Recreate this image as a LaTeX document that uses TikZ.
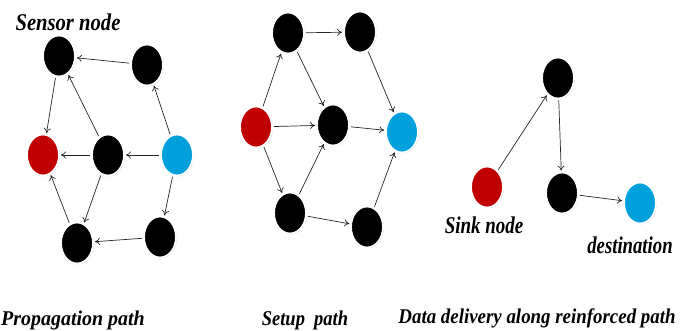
\documentclass[tikz,border=0pt]{standalone}
\usepackage{fontspec}
\setmainfont{Liberation Serif}
\usetikzlibrary{shapes.geometric,shadows,arrows.meta}
\definecolor{sinkred}{RGB}{192,0,0}
\definecolor{dstblue}{RGB}{0,160,220}
\tikzset{
  nd/.style={ellipse,minimum width=32pt,minimum height=41pt,inner sep=0pt,draw=white,line width=1.8pt,fill=black,
    drop shadow={shadow xshift=0.8pt,shadow yshift=-0.8pt,fill=black!40,opacity=0.6}},
  rd/.style={nd,fill=sinkred},
  bl/.style={nd,fill=dstblue},
  ar/.style={-{To[length=5pt,width=7pt]},draw=black!85,line width=0.7pt,shorten >=1pt,shorten <=1pt},
  lbl/.style={font=\fontsize{24}{26}\selectfont\bfseries\itshape,inner sep=0pt},
  captext/.style={font=\fontsize{21}{23}\selectfont\bfseries\itshape,inner sep=0pt}
}
\begin{document}
\begin{tikzpicture}[x=1pt,y=-1pt]
\useasboundingbox (0,0) rectangle (690,331);
% left graph
\node[nd] (la) at (59,56) {};
\node[nd] (lb) at (147,65) {};
\node[rd] (lr) at (43,155) {};
\node[nd] (lm) at (108,155) {};
\node[bl] (lu) at (177,155) {};
\node[nd] (lc) at (77,243) {};
\node[nd] (ld) at (160,237) {};
\draw[ar] (lb) -- (la);
\draw[ar] (la) -- (lr);
\draw[ar] (lm) -- (la);
\draw[ar] (lm) -- (lr);
\draw[ar] (lu) -- (lm);
\draw[ar] (lu) -- (lb);
\draw[ar] (lm) -- (lc);
\draw[ar] (lc) -- (lr);
\draw[ar] (lu) -- (ld);
\draw[ar] (ld) -- (lc);
\node[lbl] (sn) at (68,22) {\scalebox{0.86}[1]{Sensor node}};
% middle graph
\node[nd] (ma) at (288,33) {};
\node[nd] (mb) at (360,32) {};
\node[rd] (mr) at (256,127) {};
\node[nd] (mm) at (333,125) {};
\node[bl] (mu) at (402,132) {};
\node[nd] (mc) at (290,213) {};
\node[nd] (md) at (367,227) {};
\draw[ar] (mr) -- (ma);
\draw[ar] (ma) -- (mb);
\draw[ar] (ma) -- (mm);
\draw[ar] (mb) -- (mu);
\draw[ar] (mr) -- (mm);
\draw[ar] (mm) -- (mu);
\draw[ar] (mr) -- (mc);
\draw[ar] (mc) -- (mm);
\draw[ar] (mc) -- (md);
\draw[ar] (md) -- (mu);
% right graph
\node[nd] (ra) at (558,78) {};
\node[rd] (rr) at (487,187) {};
\node[nd] (rm) at (562,193) {};
\node[bl] (ru) at (640,203) {};
\draw[ar] (rr) -- (ra);
\draw[ar] (ra) -- (rm);
\draw[ar] (rm) -- (ru);
\node[lbl] (sk) at (484,225) {\scalebox{0.79}[1]{Sink node}};
\node[lbl] (ds) at (630,245) {\scalebox{0.78}[1]{destination}};
% captions
\node[captext] (c1) at (73,320) {\scalebox{0.95}[1]{Propagation path}};
\node[captext] (c2) at (305,320) {\scalebox{0.88}[1]{Setup\ \ path}};
\node[captext] (c3) at (537,318) {\scalebox{0.9}[1]{Data delivery along reinforced path}};
\end{tikzpicture}
\end{document}
